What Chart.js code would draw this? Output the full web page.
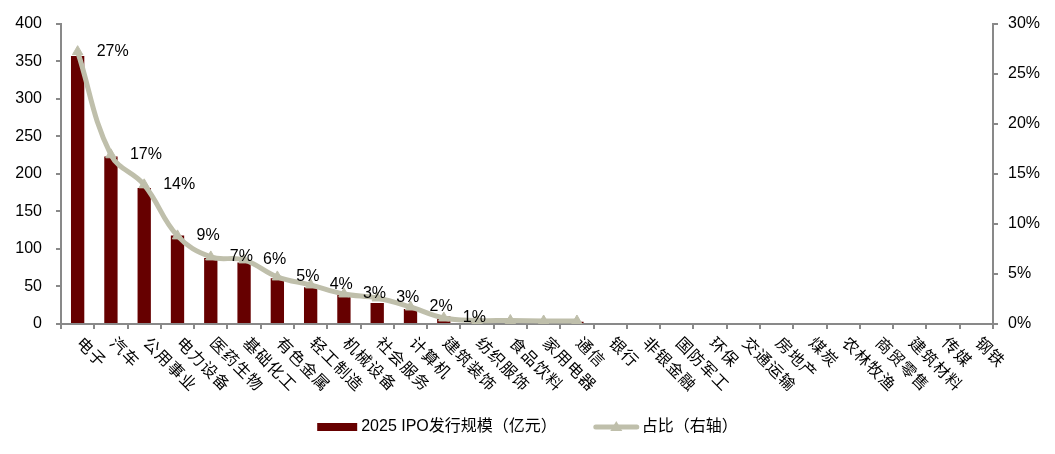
<!DOCTYPE html>
<html><head><meta charset="utf-8">
<script src="https://cdn.jsdelivr.net/npm/chart.js@4.4.1/dist/chart.umd.min.js"></script>
<style>html,body{margin:0;padding:0;background:#fff;overflow:hidden;} #wrap{width:1055px;height:454px;position:relative;}</style>
</head><body><div id="wrap"><canvas id="c"></canvas></div>
<script>
const categories = ['电子','汽车','公用事业','电力设备','医药生物','基础化工','有色金属','轻工制造','机械设备','社会服务','计算机','建筑装饰','纺织服饰','食品饮料','家用电器','通信','银行','非银金融','国防军工','环保','交通运输','房地产','煤炭','农林牧渔','商贸零售','建筑材料','传媒','钢铁'];
const ipoScale = [357,223,181,118,88,82,61,49,39,28,20,10,4,4,3,3,null,null,null,null,null,null,null,null,null,null,null,null];
const sharePct = [27.2,16.9,13.9,8.8,6.7,6.4,4.7,3.9,3.0,2.6,1.7,0.6,0.35,0.35,0.3,0.3,null,null,null,null,null,null,null,null,null,null,null,null];
const leftTickMax = 400, leftTickStep = 50;
const rightTickMax = 30, rightTickStep = 5;
const seriesNames = ['2025 IPO发行规模（亿元）', '占比（右轴）'];

const FONT = '"Liberation Sans", Arial, "Noto Sans CJK SC", sans-serif';
const BAR_COLOR = '#660000';
const LINE_COLOR = '#BFBFAB';
const AXIS_COLOR = '#898989';

Chart.defaults.font.family = FONT;
Chart.defaults.font.size = 16;
Chart.defaults.color = '#000';

const labelsPlugin = {
  id: 'customText',
  afterDatasetsDraw(chart) {
    const ctx = chart.ctx;
    const meta = chart.getDatasetMeta(1);
    ctx.save();
    ctx.font = '16px ' + FONT;
    ctx.fillStyle = '#000';
    ctx.textAlign = 'left';
    ctx.textBaseline = 'middle';
    meta.data.forEach((pt, i) => {
      const v = sharePct[i];
      if (v == null || Math.round(v) < 1) return;
      ctx.fillText(Math.round(v) + '%', pt.x + 19, pt.y);
    });
    ctx.restore();
  },
  afterDraw(chart) {
    const ctx = chart.ctx;
    const xs = chart.scales.x;
    ctx.save();
    ctx.font = '16px ' + FONT;
    ctx.fillStyle = '#000';
    ctx.textAlign = 'left';
    ctx.textBaseline = 'middle';
    try { ctx.letterSpacing = '1px'; } catch (e) {}
    categories.forEach((c, i) => {
      const x = xs.getPixelForValue(i);
      ctx.save();
      ctx.translate(x + 1, 341);
      ctx.rotate(Math.PI / 4);
      ctx.fillText(c, 0, 0);
      ctx.restore();
    });
    try { ctx.letterSpacing = '0px'; } catch (e) {}
    // legend
    const y = 427;
    const w1 = ctx.measureText(seriesNames[0]).width;
    const w2 = ctx.measureText(seriesNames[1]).width;
    const total = 40 + 4 + w1 + 37 + 45 + 3 + w2;
    let lx = chart.width / 2 - total / 2;
    ctx.fillStyle = BAR_COLOR;
    ctx.fillRect(lx, y - 4, 40, 8);
    lx += 44;
    ctx.fillStyle = '#000';
    ctx.fillText(seriesNames[0], lx, y);
    lx += w1 + 37;
    ctx.strokeStyle = LINE_COLOR;
    ctx.lineWidth = 5;
    ctx.lineCap = 'round';
    ctx.beginPath(); ctx.moveTo(lx + 2, y); ctx.lineTo(lx + 43, y); ctx.stroke();
    ctx.fillStyle = LINE_COLOR;
    ctx.beginPath(); ctx.moveTo(lx + 22.5, y - 6); ctx.lineTo(lx + 28.5, y + 4); ctx.lineTo(lx + 16.5, y + 4); ctx.closePath(); ctx.fill();
    lx += 48;
    ctx.fillStyle = '#000';
    ctx.fillText(seriesNames[1], lx, y);
    ctx.restore();
  }
};

new Chart(document.getElementById('c'), {
  data: {
    labels: categories,
    datasets: [
      { type: 'bar', label: seriesNames[0], data: ipoScale, backgroundColor: BAR_COLOR, yAxisID: 'y', order: 2,
        categoryPercentage: 1, barPercentage: 0.4 },
      { type: 'line', label: seriesNames[1], data: sharePct, yAxisID: 'y1', order: 1,
        borderColor: LINE_COLOR, backgroundColor: LINE_COLOR, borderWidth: 5, tension: 0.4,
        pointStyle: 'triangle', pointRadius: 6, pointBackgroundColor: LINE_COLOR, pointBorderColor: LINE_COLOR, pointBorderWidth: 1,
        spanGaps: false }
    ]
  },
  options: {
    responsive: true, maintainAspectRatio: false, animation: false,
    layout: { padding: { left: 0, right: 0, top: 23, bottom: 0 } },
    plugins: { legend: { display: false }, tooltip: { enabled: false } },
    scales: {
      x: {
        type: 'category', offset: true,
        grid: { display: true, offset: true, drawOnChartArea: false, drawTicks: true, tickLength: 5, color: AXIS_COLOR, lineWidth: 2 },
        border: { display: true, color: AXIS_COLOR, width: 2 },
        ticks: { display: false },
        afterFit(s) { s.height = 130; }
      },
      y: {
        position: 'left', min: 0, max: leftTickMax,
        ticks: { stepSize: leftTickStep, padding: 14, color: '#000', font: { size: 16 } },
        grid: { display: true, drawOnChartArea: false, drawTicks: true, tickLength: 5, color: AXIS_COLOR, lineWidth: 2 },
        border: { display: true, color: AXIS_COLOR, width: 2 },
        afterFit(s) { s.width = 61; }
      },
      y1: {
        position: 'right', min: 0, max: rightTickMax,
        ticks: { stepSize: rightTickStep, padding: 10, color: '#000', font: { size: 16 }, callback: v => v + '%' },
        grid: { display: true, drawOnChartArea: false, drawTicks: true, tickLength: 5, color: AXIS_COLOR, lineWidth: 2 },
        border: { display: true, color: AXIS_COLOR, width: 2 },
        afterFit(s) { s.width = 62; }
      }
    }
  },
  plugins: [labelsPlugin]
});
</script></body></html>
